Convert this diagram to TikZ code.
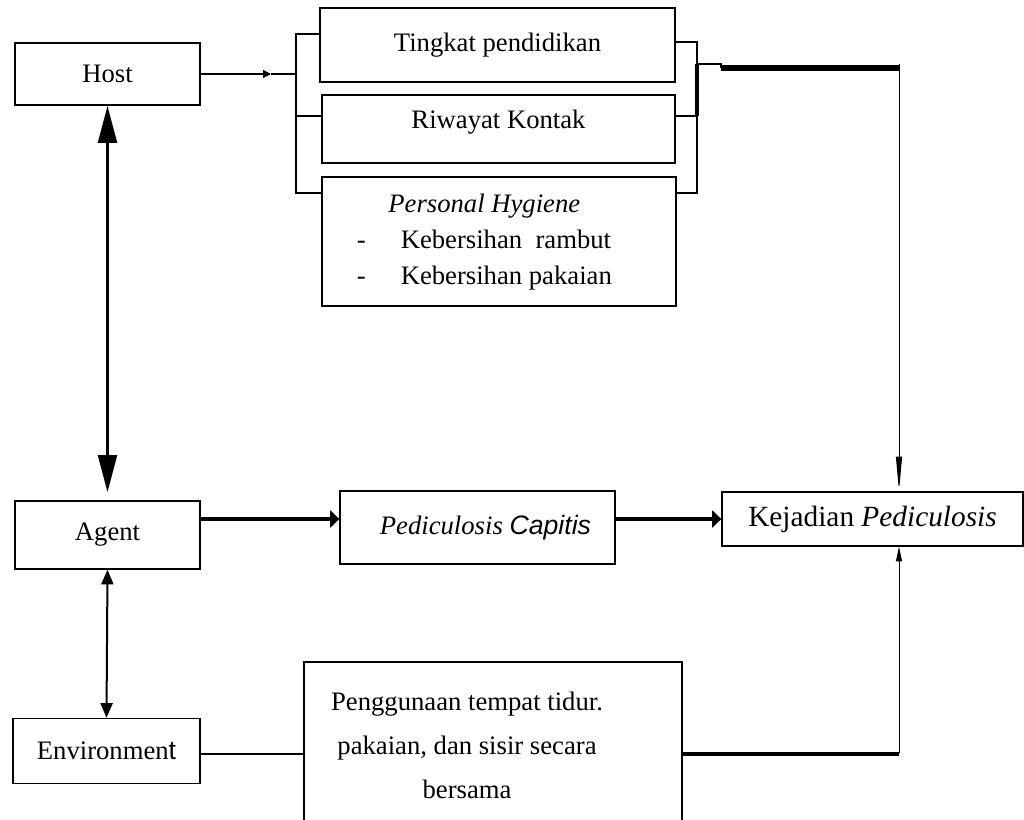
\documentclass[tikz,border=0pt]{standalone}
\usepackage{fontspec}
\setmainfont{Liberation Serif}
\newfontfamily\arialfam{Liberation Sans}
\usetikzlibrary{arrows.meta}

\begin{document}
\begin{tikzpicture}[x=0.75pt,y=0.75pt,yscale=-1,xscale=1,
  box/.style={draw, line width=1pt, inner sep=0pt, font=\fontsize{20}{24}\selectfont},
  bracket/.style={line width=1.4pt},
  bigtip/.style={line width=2.6pt, {Triangle[length=28pt,width=14pt]}-{Triangle[length=28pt,width=14pt]}},
  thintip/.style={line width=0.75pt, -{Triangle[length=#1,width=4.5pt]}}]
\useasboundingbox (0,0) rectangle (1024,820);

%Shape: Rectangle [host]
\node [box, minimum width=138.75pt, minimum height=46.5pt] (host) at (107.5,74) {Host};
%Shape: Rectangle [agent]
\node [box, minimum width=138.75pt, minimum height=51pt] (agent) at (107.5,535) {Agent};
%Shape: Rectangle [environment]
\node [box, minimum width=140.25pt, minimum height=48.75pt] (env) at (106.5,751) {Environmen{\arialfam t}};

%Shape: Rectangle [tingkat]
\node [box, minimum width=266.25pt, minimum height=55.5pt] (tingkat) at (497.5,45) {Tingkat pendidikan};
%Shape: Rectangle [riwayat]
\node [box, minimum width=264.75pt, minimum height=51pt, text depth=14pt] (riwayat) at (498.5,129) {Riwayat Kontak};
%Shape: Rectangle [hygiene]
\node [box, line width=2pt, minimum width=265.5pt, minimum height=96.75pt, font=\fontsize{20}{27}\selectfont] (hygiene) at (499,241.5)
  {\begin{tabular}{@{}p{33pt}@{}l@{\hspace{22pt}}}
   \multicolumn{2}{@{}c@{\hspace{22pt}}}{\textit{Personal Hygiene}}\\
   - & Kebersihan\ \ rambut\\
   - & Kebersihan pakaian
   \end{tabular}};

%Shape: Rectangle [pediculosis capitis]
\node [box, minimum width=206.25pt, minimum height=54.75pt] (pedcap) at (477.5,527.5) {\hspace{12pt}\textit{Pediculosis} {\arialfam\itshape Capitis}};
%Shape: Rectangle [kejadian]
\node [box, minimum width=225.75pt, minimum height=40.5pt, font=\fontsize{22}{26}\selectfont] (kejadian) at (872.5,519) {Kejadian \textit{Pediculosis}\hspace{18pt}};
%Shape: Rectangle [penggunaan]
\node [box, minimum width=283.5pt, minimum height=126pt, font=\fontsize{20}{33}\selectfont] (peng) at (493,746)
  {\begin{tabular}{@{}c@{\hspace{39pt}}}
   Penggunaan tempat tidur.\\
   pakaian, dan sisir secara\\
   bersama
   \end{tabular}};

% bracket joints
\coordinate (ha) at (271,74);
\coordinate (lj) at (296,74);
\coordinate (lt) at (296,34);
\coordinate (lm) at (296,116);
\coordinate (lb) at (296,193);
\coordinate (rt) at (697,42);
\coordinate (rj) at (697,64);
\coordinate (rm) at (697,116);
\coordinate (rb) at (697,193);
\coordinate (bs) at (721,68);
\coordinate (be) at (899,68);
\coordinate (ce) at (899,754);

%Straight Lines [host to bracket]
\draw [line width=1.1pt, -{Triangle[length=6pt,width=6pt]}] (host.east) -- (ha);
\draw [bracket] (ha) -- (lj);
%Straight Lines [left bracket]
\draw [bracket] (tingkat.west |- lt) -- (lt) -- (lb) -- (hygiene.west |- lb);
\draw [bracket] (riwayat.west |- lm) -- (lm);
%Straight Lines [right bracket]
\draw [bracket] (tingkat.east |- rt) -- (rt) -- (rb) -- (hygiene.east |- rb);
\draw [bracket] (riwayat.east |- rm) -- (rm);
\draw [line width=2.4pt] (rj) -- (rm);
\draw [bracket] (rj) -- (bs |- rj) -- (bs);
\draw [line width=4.5pt] (bs) -- (be);
\draw [thintip=26pt] ([yshift=-3pt]be) -- (kejadian.north -| be);

%Straight Lines [host agent environment]
\draw [bigtip, shorten >=6pt] (host.south) -- (agent.north);
\draw [line width=1.5pt, {Triangle[length=11pt,width=9pt]}-{Triangle[length=11pt,width=9pt]}] (agent.south) -- (env.north);

%Straight Lines [agent to kejadian]
\draw [line width=2.8pt, -{Triangle[length=7pt,width=13pt]}] (agent.east |- kejadian.west) -- (pedcap.west |- kejadian.west);
\draw [line width=3pt, -{Triangle[length=7pt,width=13pt]}] (pedcap.east |- kejadian.west) -- (kejadian.west);

%Straight Lines [environment to kejadian]
\draw [line width=1.5pt] (env.east |- ce) -- (peng.west |- ce);
\draw [line width=3pt] (peng.east |- ce) -- (ce);
\draw [thintip=11pt] ([yshift=-1pt]ce) -- (kejadian.south -| ce);

\end{tikzpicture}
\end{document}
